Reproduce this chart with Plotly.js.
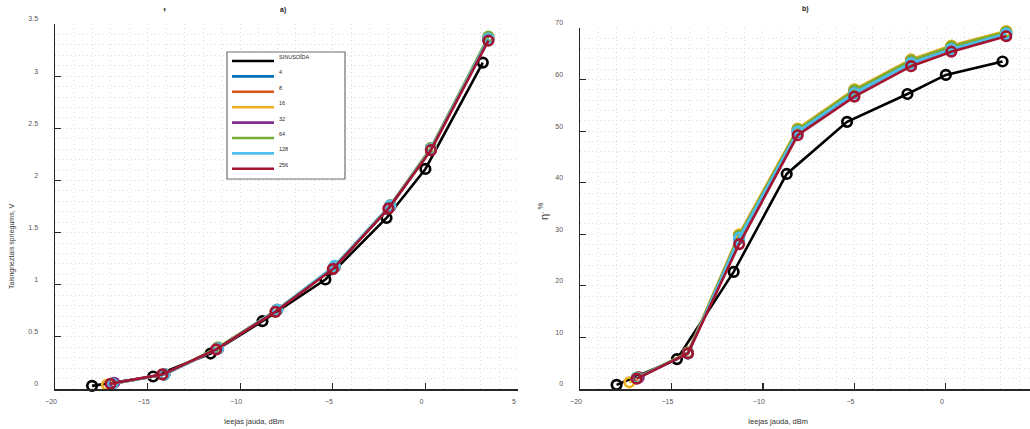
<!DOCTYPE html>
<html><head><meta charset="utf-8">
<script src="https://cdn.plot.ly/plotly-3.0.1.min.js"></script>
<style>html,body{margin:0;padding:0;background:#fff}#chart{width:1030px;height:429px}</style>
</head><body><div id="chart"></div>
<script>
// ---------- data ----------
const seriesNames  = ['SINUSOĪDA','4','8','16','32','64','128','256'];
const seriesColors = ['#000000','#0072BD','#D95319','#EDB120','#7E2F8E','#77AC30','#4DBEEE','#A2142F'];

// panel a) rectified voltage, V  vs input power, dBm
const xA_sin = [-18.0, -14.7, -11.6, -8.8, -5.4, -2.1, 0.0, 3.1];
const yA_sin = [0.03, 0.12, 0.34, 0.65, 1.05, 1.64, 2.11, 3.13];
const xA_4   = [-16.9, -14.1, -11.2, -8.0, -4.9, -1.9, 0.3, 3.4];
const yA_4   = [0.05, 0.14, 0.39, 0.76, 1.17, 1.75, 2.30, 3.35];
const xA_8   = [-16.9, -14.1, -11.2, -8.0, -4.9, -1.9, 0.3, 3.4];
const yA_8   = [0.05, 0.14, 0.39, 0.76, 1.17, 1.76, 2.31, 3.36];
const xA_16  = [-17.2, -14.1, -11.2, -8.0, -4.9, -1.9, 0.3, 3.4];
const yA_16  = [0.04, 0.14, 0.39, 0.76, 1.17, 1.75, 2.30, 3.36];
const xA_32  = [-16.8, -14.1, -11.2, -8.0, -4.9, -1.9, 0.3, 3.4];
const yA_32  = [0.06, 0.14, 0.39, 0.76, 1.17, 1.75, 2.30, 3.36];
const xA_64  = [-16.9, -14.1, -11.2, -8.0, -4.9, -1.9, 0.3, 3.4];
const yA_64  = [0.05, 0.14, 0.40, 0.76, 1.18, 1.76, 2.31, 3.38];
const xA_128 = [-16.9, -14.1, -11.2, -8.0, -4.9, -1.9, 0.3, 3.4];
const yA_128 = [0.05, 0.14, 0.39, 0.76, 1.18, 1.76, 2.30, 3.36];
const xA_256 = [-17.0, -14.2, -11.3, -8.1, -5.0, -2.0, 0.3, 3.4];
const yA_256 = [0.05, 0.14, 0.38, 0.74, 1.15, 1.73, 2.29, 3.34];

// panel b) efficiency eta, %  vs input power, dBm
const xB_sin = [-18.0, -14.7, -11.6, -8.7, -5.4, -2.1, 0.0, 3.1];
const yB_sin = [0.8, 5.8, 22.7, 41.7, 51.8, 57.2, 60.9, 63.5];
const xB_4   = [-16.9, -14.1, -11.3, -8.1, -5.0, -1.9, 0.3, 3.3];
const yB_4   = [2.1, 6.9, 29.2, 49.8, 57.3, 63.2, 65.9, 68.8];
const xB_8   = [-16.8, -14.1, -11.3, -8.1, -5.0, -1.9, 0.3, 3.3];
const yB_8   = [2.3, 7.0, 29.9, 50.4, 58.0, 63.8, 66.5, 69.3];
const xB_16  = [-17.3, -14.1, -11.3, -8.1, -5.0, -1.9, 0.3, 3.3];
const yB_16  = [1.3, 7.1, 30.0, 50.5, 58.1, 63.9, 66.6, 69.4];
const xB_32  = [-16.8, -14.1, -11.3, -8.1, -5.0, -1.9, 0.3, 3.3];
const yB_32  = [2.2, 7.0, 29.5, 50.0, 57.6, 63.5, 66.2, 69.0];
const xB_64  = [-16.9, -14.1, -11.3, -8.1, -5.0, -1.9, 0.3, 3.3];
const yB_64  = [2.2, 7.0, 29.7, 50.3, 57.9, 63.7, 66.4, 69.2];
const xB_128 = [-16.9, -14.1, -11.3, -8.1, -5.0, -1.9, 0.3, 3.3];
const yB_128 = [2.1, 6.9, 29.3, 49.9, 57.4, 63.2, 65.9, 68.9];
const xB_256 = [-16.9, -14.1, -11.3, -8.1, -5.0, -1.9, 0.3, 3.3];
const yB_256 = [2.0, 6.9, 28.1, 49.2, 56.7, 62.6, 65.4, 68.4];

const titleA = 'a)';
const titleB = 'b)';
const xTitle = 'Ieejas jauda, dBm';
const yTitleA = 'Taisngrieztais spriegums, V';
const yTitleB = 'η<sup>, %</sup>';

// ---------- build ----------
const W = 1030, H = 429;
const px = x => x / W;
const py = y => 1 - y / H;

const panelA = [[xA_sin,yA_sin],[xA_4,yA_4],[xA_8,yA_8],[xA_16,yA_16],[xA_32,yA_32],[xA_64,yA_64],[xA_128,yA_128],[xA_256,yA_256]];
const panelB = [[xB_sin,yB_sin],[xB_4,yB_4],[xB_8,yB_8],[xB_16,yB_16],[xB_32,yB_32],[xB_64,yB_64],[xB_128,yB_128],[xB_256,yB_256]];

const traces = [];
function addPanel(panel, xa, ya) {
  panel.forEach((d, i) => {
    traces.push({
      type: 'scatter', mode: 'lines+markers',
      x: d[0], y: d[1], xaxis: xa, yaxis: ya,
      name: seriesNames[i], showlegend: false,
      line: {color: seriesColors[i], width: 2.6},
      marker: {symbol: 'circle-open', size: 9.5, color: seriesColors[i], line: {width: 2.7, color: seriesColors[i]}},
      cliponaxis: false
    });
  });
}
addPanel(panelA, 'x', 'y');
addPanel(panelB, 'x2', 'y2');

const tickFont = {family: 'Liberation Sans, Arial, sans-serif', size: 7, color: '#555555'};
const GRIDC = '#dcdcdc', GRIDD = '1px,3px';
const gridCommon = {
  showgrid: true, gridcolor: GRIDC, griddash: GRIDD, gridwidth: 1,
  zeroline: false, showline: true, linecolor: '#262626', linewidth: 1.5,
  ticks: 'inside', ticklen: 6, tickwidth: 1.2, tickcolor: '#262626',
  tickfont: tickFont, mirror: false
};
function xaxisDef(domain, range, minorD) {
  return Object.assign({}, gridCommon, {
    domain: domain, range: range, dtick: 5, tick0: 0,
    ticklabelshift: -4, ticklabelstandoff: 5,
    minor: {dtick: minorD, showgrid: true, gridcolor: GRIDC, griddash: GRIDD, gridwidth: 1, ticks: ''}
  });
}
function yaxisDef(domain, range, dt, minorD, anchor) {
  return Object.assign({}, gridCommon, {
    domain: domain, range: range, dtick: dt, tick0: 0, anchor: anchor,
    ticklabelshift: -5, ticklabelstandoff: 14,
    minor: {dtick: minorD, showgrid: true, gridcolor: GRIDC, griddash: GRIDD, gridwidth: 1, ticks: ''}
  });
}

const layout = {
  width: W, height: H,
  margin: {l: 0, r: 0, t: 0, b: 0},
  paper_bgcolor: '#ffffff', plot_bgcolor: '#ffffff',
  showlegend: false,
  font: {family: 'Liberation Sans, Arial, sans-serif'},
  xaxis: Object.assign(xaxisDef([px(55), px(518)], [-20, 5], 1), {anchor: 'y'}),
  yaxis: yaxisDef([py(389), py(24)], [0, 3.5], 0.5, 0.1, 'x'),
  xaxis2: Object.assign(xaxisDef([px(580), 1], [-20, 4.6], 1), {anchor: 'y2'}),
  yaxis2: yaxisDef([py(389), py(28)], [0, 70], 10, 2, 'x2'),
  shapes: [],
  annotations: []
};

const ann = layout.annotations;
const txtFont = (s, c, bold) => ({family: 'Liberation Sans, Arial, sans-serif', size: s, color: c || '#333333', weight: bold ? 'bold' : 'normal'});
ann.push({xref:'paper', yref:'paper', x:px(283), y:py(10), text:titleA, showarrow:false, font:txtFont(7,'#222',true), xanchor:'center', yanchor:'middle'});
ann.push({xref:'paper', yref:'paper', x:px(164), y:py(6), text:',', showarrow:false, font:txtFont(11,'#222',true), xanchor:'center', yanchor:'middle'});
ann.push({xref:'paper', yref:'paper', x:px(805), y:py(9), text:titleB, showarrow:false, font:txtFont(7,'#222',true), xanchor:'center', yanchor:'middle'});
ann.push({xref:'paper', yref:'paper', x:px(254), y:py(421), text:xTitle, showarrow:false, font:txtFont(7.5,'#333'), xanchor:'center', yanchor:'middle'});
ann.push({xref:'paper', yref:'paper', x:px(778), y:py(421), text:xTitle, showarrow:false, font:txtFont(7.5,'#333'), xanchor:'center', yanchor:'middle'});
ann.push({xref:'paper', yref:'paper', x:px(12), y:py(246), text:yTitleA, textangle:-90, showarrow:false, font:txtFont(7,'#333'), xanchor:'center', yanchor:'middle'});
ann.push({xref:'paper', yref:'paper', x:px(543), y:py(212), text:yTitleB, textangle:-90, showarrow:false, font:txtFont(11,'#333'), xanchor:'center', yanchor:'middle'});

// legend box (panel a)
const legL = 227, legT = 52, legR = 345, legB = 179;
layout.shapes.push({type:'rect', xref:'paper', yref:'paper', x0:px(legL), x1:px(legR), y0:py(legB), y1:py(legT),
  fillcolor:'#ffffff', line:{color:'#6f6f6f', width:1.2}, layer:'above'});
seriesNames.forEach((nm, i) => {
  const yy = 61 + i * 15.4;
  layout.shapes.push({type:'line', xref:'paper', yref:'paper', x0:px(232), x1:px(274), y0:py(yy), y1:py(yy),
    line:{color:seriesColors[i], width:2.6}, layer:'above'});
  ann.push({xref:'paper', yref:'paper', x:px(277), y:py(yy - 4), text:nm, showarrow:false,
    font:txtFont(5.5,'#262626'), xanchor:'left', yanchor:'middle'});
});

Plotly.newPlot('chart', traces, layout, {staticPlot: true, displayModeBar: false});
</script>
</body></html>
